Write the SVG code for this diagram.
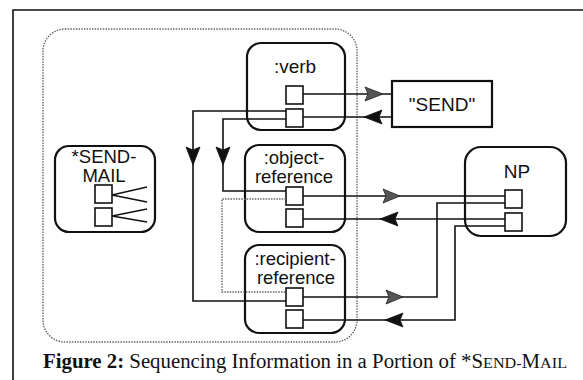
<svg xmlns="http://www.w3.org/2000/svg" width="583" height="380" viewBox="0 0 583 380">
<style>
.box{fill:none;stroke:#111;stroke-width:2.2}
.port{fill:#fff;stroke:#111;stroke-width:1.6}
.lbl{font-family:"Liberation Sans",Arial,sans-serif;font-size:19px;fill:#111;text-anchor:middle}
.lbl2{font-family:"Liberation Sans",Arial,sans-serif;font-size:18.5px;fill:#111;text-anchor:middle}
.wire{fill:none;stroke:#111;stroke-width:1.6}
.dot{fill:none;stroke:#666;stroke-width:1.4;stroke-dasharray:1.5 1.2}
.fwd{fill:#555;stroke:#222;stroke-width:0.8}
.bwd{fill:#111;stroke:#111;stroke-width:0.8}
.cap{font-family:"Liberation Serif","Times New Roman",serif;font-size:20px;fill:#111}
</style>
<rect width="583" height="380" fill="#fff"/>
<g id="frame">
<path d="M13,380 V10 H583" fill="none" stroke="#111" stroke-width="1.6"/>
<rect x="43" y="29" width="314" height="313" rx="22" class="dot"/>
</g>
<g id="send-mail">
<rect x="55" y="146" width="100" height="86" rx="14" class="box"/>
<text class="lbl2"><tspan x="104" y="163">*SEND-</tspan><tspan x="104" dy="19">MAIL</tspan></text>
<rect x="95" y="185" width="17" height="18" class="port"/>
<rect x="95" y="208" width="17" height="18" class="port"/>
<path d="M112,195 L147,187 M112,195 L147,202 M112,216 L147,209 M112,216 L147,222" class="wire"/>
</g>
<g id="verb">
<rect x="247" y="43" width="98" height="87" rx="14" class="box"/>
<text x="295" y="73" class="lbl">:verb</text>
<rect x="286" y="86" width="17" height="18" class="port"/>
<rect x="286" y="109" width="17" height="18" class="port"/>
</g>
<g id="object-reference">
<rect x="245" y="145" width="100" height="87" rx="14" class="box"/>
<text class="lbl2"><tspan x="294" y="164">:object-</tspan><tspan x="294" dy="19">reference</tspan></text>
<rect x="286" y="187" width="17" height="18" class="port"/>
<rect x="286" y="209" width="17" height="18" class="port"/>
</g>
<g id="recipient-reference">
<rect x="245" y="245" width="100" height="88" rx="14" class="box"/>
<text class="lbl2"><tspan x="295" y="265">:recipient-</tspan><tspan x="296" dy="19">reference</tspan></text>
<rect x="286" y="288" width="17" height="18" class="port"/>
<rect x="286" y="310" width="17" height="18" class="port"/>
</g>
<g id="send">
<rect x="392" y="81" width="100" height="46" class="box"/>
<text x="442" y="111" class="lbl">"SEND"</text>
</g>
<g id="np">
<rect x="465" y="147" width="101" height="89" rx="16" class="box"/>
<text x="517" y="178" class="lbl">NP</text>
<rect x="505" y="190" width="17" height="18" class="port"/>
<rect x="505" y="213" width="17" height="18" class="port"/>
</g>
<g id="connectors">
<path d="M303,94 H392" class="wire"/>
<path d="M392,117 H303" class="wire"/>
<path d="M286,111 H193 V301 H286" class="wire"/>
<path d="M286,119 H223 V191 H286" class="wire"/>
<path d="M286,199 H222 V292 H286" class="dot"/>
<path d="M303,196 H505" class="wire"/>
<path d="M505,219 H303" class="wire"/>
<path d="M303,297 H437 V203 H505" class="wire"/>
<path d="M505,226 H455 V320 H303" class="wire"/>
<path d="M383,94 L365,87 L368,94 L365,101 Z" class="fwd"/>
<path d="M364,117 L382,110 L379,117 L382,124 Z" class="bwd"/>
<path d="M193,165 L186,147 L193,150 L200,147 Z" class="bwd"/>
<path d="M223,165 L216,147 L223,150 L230,147 Z" class="bwd"/>
<path d="M400,196 L383,189 L386,196 L383,203 Z" class="fwd"/>
<path d="M380,219 L398,212 L395,219 L398,226 Z" class="bwd"/>
<path d="M403,297 L386,290 L389,297 L386,304 Z" class="fwd"/>
<path d="M385,320 L403,313 L400,320 L403,327 Z" class="bwd"/>
</g>
<g id="caption">
<text x="43" y="368" class="cap" textLength="524" lengthAdjust="spacingAndGlyphs"><tspan font-weight="bold">Figure 2:</tspan> Sequencing Information in a Portion of *S<tspan font-size="15.5">END-</tspan>M<tspan font-size="15.5">AIL</tspan></text>
</g>
</svg>
